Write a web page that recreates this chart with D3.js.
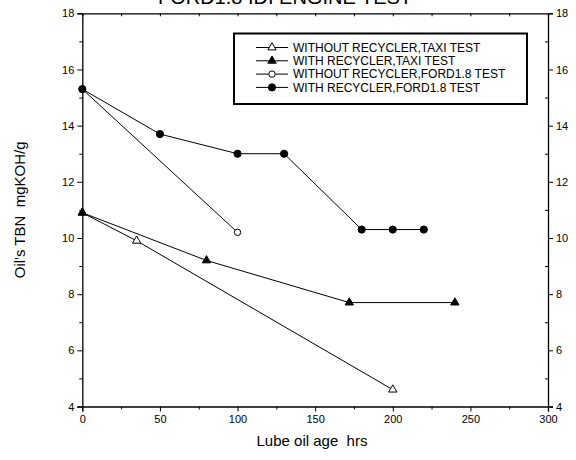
<!DOCTYPE html>
<html>
<head>
<meta charset="utf-8">
<script src="https://cdn.jsdelivr.net/npm/d3@7"></script>
<style>
  body { margin: 0; background: #fff; }
  svg { display: block; font-family: Arial, "Liberation Sans", sans-serif; }
  text { white-space: pre; }
</style>
</head>
<body>
<div id="chart"></div>
<script>
// series data
const seriesNames = [
  "WITHOUT RECYCLER,TAXI TEST",
  "WITH RECYCLER,TAXI TEST",
  "WITHOUT RECYCLER,FORD1.8 TEST",
  "WITH RECYCLER,FORD1.8 TEST"
];
const taxiNoRecHrs = [0, 35, 200];
const taxiNoRecTbn = [10.9, 9.9, 4.6];
const taxiRecHrs = [0, 80, 172, 240];
const taxiRecTbn = [10.9, 9.2, 7.7, 7.7];
const fordNoRecHrs = [0, 100];
const fordNoRecTbn = [15.3, 10.2];
const fordRecHrs = [0, 50, 100, 130, 180, 200, 220];
const fordRecTbn = [15.3, 13.7, 13.0, 13.0, 10.3, 10.3, 10.3];

const xMajor = [0, 50, 100, 150, 200, 250, 300];
const xMinor = [25, 75, 125, 175, 225, 275];
const yMajor = [4, 6, 8, 10, 12, 14, 16, 18];
const yMinor = [5, 7, 9, 11, 13, 15, 17];

const W = 576, H = 460;
const svg = d3.select("#chart").append("svg")
  .attr("width", W).attr("height", H);

const x = d3.scaleLinear().domain([0, 300]).range([82.3, 548]);
const y = d3.scaleLinear().domain([4, 18]).range([406.5, 13.3]);

function styleAxis(g) {
  g.select(".domain").attr("stroke", "#000").attr("stroke-width", 1.3);
  g.selectAll(".tick line").attr("stroke", "#000").attr("stroke-width", 1);
  g.selectAll(".tick text").attr("fill", "#000").attr("font-size", 11)
    .attr("font-family", "Arial, 'Liberation Sans', sans-serif");
}

// bottom axis
svg.append("g").attr("transform", `translate(0,${y(4)})`)
  .call(d3.axisBottom(x).tickValues(xMajor).tickSize(5).tickPadding(4).tickFormat(d3.format("d")))
  .call(styleAxis);
svg.append("g").attr("transform", `translate(0,${y(4)})`)
  .call(d3.axisBottom(x).tickValues(xMinor).tickSize(3).tickFormat(""))
  .call(styleAxis).call(g => g.select(".domain").remove());

// top axis
svg.append("g").attr("transform", `translate(0,${y(18)})`)
  .call(d3.axisBottom(x).tickValues(xMajor.concat(xMinor)).tickSize(3).tickFormat(""))
  .call(styleAxis);

// left axis
svg.append("g").attr("transform", `translate(${x(0)},0)`)
  .call(d3.axisLeft(y).tickValues(yMajor).tickSize(5).tickPadding(3).tickFormat(d3.format("d")))
  .call(styleAxis);
svg.append("g").attr("transform", `translate(${x(0)},0)`)
  .call(d3.axisLeft(y).tickValues(yMinor).tickSize(3).tickFormat(""))
  .call(styleAxis).call(g => g.select(".domain").remove());

// right axis
svg.append("g").attr("transform", `translate(${x(300)},0)`)
  .call(d3.axisRight(y).tickValues(yMajor).tickSize(5).tickPadding(3).tickFormat(d3.format("d")))
  .call(styleAxis);
svg.append("g").attr("transform", `translate(${x(300)},0)`)
  .call(d3.axisLeft(y).tickValues(yMinor).tickSize(3).tickFormat(""))
  .call(styleAxis).call(g => g.select(".domain").remove());

// title (cut off at top in the original)
svg.append("text").attr("x", 285).attr("y", 3.5)
  .attr("text-anchor", "middle").attr("font-size", 20).attr("fill", "#000")
  .text("FORD1.8 IDI ENGINE TEST");

// axis titles
svg.append("text").attr("x", 312).attr("y", 446)
  .attr("text-anchor", "middle").attr("font-size", 15).attr("fill", "#000")
  .attr("xml:space", "preserve")
  .text("Lube oil age  hrs");
svg.append("text")
  .attr("transform", `translate(25,${(y(4) + y(18)) / 2}) rotate(-90)`)
  .attr("text-anchor", "middle").attr("font-size", 15).attr("fill", "#000")
  .attr("xml:space", "preserve")
  .text("Oil's TBN  mgKOH/g");

const series = [
  { hrs: taxiNoRecHrs, tbn: taxiNoRecTbn, shape: "tri", fill: "#fff" },
  { hrs: taxiRecHrs, tbn: taxiRecTbn, shape: "tri", fill: "#000" },
  { hrs: fordNoRecHrs, tbn: fordNoRecTbn, shape: "circ", fill: "#fff" },
  { hrs: fordRecHrs, tbn: fordRecTbn, shape: "circ", fill: "#000" }
];

const line = d3.line().x(d => x(d[0])).y(d => y(d[1]));
const triSym = d3.symbol().type(d3.symbolTriangle).size(30);

function marker(g, s, cx, cy) {
  if (s.shape === "tri") {
    g.append("path").attr("d", triSym())
      .attr("transform", `translate(${cx},${cy})`)
      .attr("fill", s.fill).attr("stroke", "#000").attr("stroke-width", 1);
  } else {
    g.append("circle").attr("cx", cx).attr("cy", cy)
      .attr("r", s.fill === "#000" ? 3.6 : 3.2)
      .attr("fill", s.fill).attr("stroke", "#000").attr("stroke-width", 1);
  }
}

series.forEach(s => {
  const pts = s.hrs.map((h, i) => [h, s.tbn[i]]);
  svg.append("path").datum(pts).attr("d", line)
    .attr("fill", "none").attr("stroke", "#000").attr("stroke-width", 1);
  const g = svg.append("g");
  pts.forEach(p => marker(g, s, x(p[0]), y(p[1])));
});

// legend
const lg = svg.append("g");
lg.append("rect").attr("x", 234).attr("y", 33.5).attr("width", 293).attr("height", 70.5)
  .attr("fill", "#fff").attr("stroke", "#000").attr("stroke-width", 2);
series.forEach((s, i) => {
  const ly = 47.5 + i * 13.3;
  lg.append("line").attr("x1", 256).attr("x2", 288).attr("y1", ly).attr("y2", ly)
    .attr("stroke", "#000").attr("stroke-width", 1);
  marker(lg, s, 272, ly);
  lg.append("text").attr("x", 293).attr("y", ly + 4.3)
    .attr("font-size", 12).attr("fill", "#000")
    .text(seriesNames[i]);
});
</script>
</body>
</html>
